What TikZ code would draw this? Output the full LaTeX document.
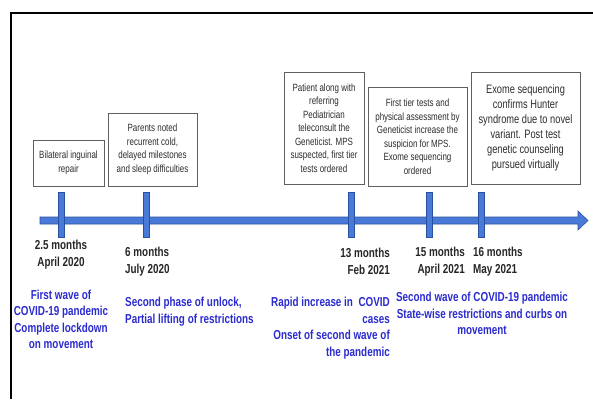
\documentclass[tikz,border=0pt]{standalone}
\usepackage{fontspec}
\setmainfont{Liberation Sans}[FakeStretch=0.76]
\usepackage{tikz}
\usetikzlibrary{positioning}

\definecolor{barblue}{RGB}{74,122,216}
\definecolor{barline}{RGB}{42,80,160}
\definecolor{waveblue}{RGB}{43,43,208}
\definecolor{boxtext}{RGB}{45,45,45}

\begin{document}
\begin{tikzpicture}[
  x=1pt, y=-1pt,
  event/.style={draw=gray!75!black, line width=0.7pt, align=center, inner sep=2pt, text=boxtext, font=\fontsize{10.5}{13.5}\selectfont},
  bigevent/.style={event, font=\fontsize{12.2}{15}\selectfont},
  tick/.style={draw=barline, fill=barblue, line width=0.6pt, minimum width=6pt, minimum height=45pt, inner sep=0pt},
  when/.style={font=\bfseries\fontsize{13}{16.5}\selectfont, text=black!85, inner sep=0pt},
  wave/.style={font=\bfseries\fontsize{13}{16.5}\selectfont, text=waveblue, inner sep=0pt}
]
\useasboundingbox (0,0) rectangle (593,399);
\fill[white] (0,0) rectangle (593,399);
% frame
\draw[line width=2pt] (10.5,399) -- (10.5,12.5) -- (593,12.5);

% timeline
\draw[barline, fill=barblue, line width=0.6pt]
  (40,217) -- (578,217) -- (578,211) -- (588,220.5) -- (578,230) -- (578,224) -- (40,224) -- cycle;
\node[tick] (t1) at (61,214.5) {};
\node[tick] (t2) at (146,214.5) {};
\node[tick] (t3) at (351,214.5) {};
\node[tick] (t4) at (429.5,214.5) {};
\node[tick] (t5) at (481.5,214.5) {};

% events
\node[event, minimum width=71pt, minimum height=46pt] (repair) at (68.5,163) {Bilateral inguinal\\repair};
\node[event, minimum width=89pt, minimum height=73pt] (parents) at (152.5,149.5) {Parents noted\\recurrent cold,\\delayed milestones\\and sleep difficulties};
\node[event, minimum width=80pt, minimum height=112pt] (consult) at (324,128) {Patient along with\\referring\\Pediatrician\\teleconsult the\\Geneticist. MPS\\suspected, first tier\\tests ordered};
\node[event, minimum width=99pt, minimum height=99pt] (tiertests) at (417.5,136.5) {First tier tests and\\physical assessment by\\Geneticist increase the\\suspicion for MPS.\\Exome sequencing\\ordered};
\node[bigevent, minimum width=109pt, minimum height=112pt] (exome) at (525.5,128) {Exome sequencing\\confirms Hunter\\syndrome due to novel\\variant. Post test\\genetic counseling\\pursued virtually};

% ages
\node[when, align=center] (age1) at (61,254.5) {2.5 months\\April 2020};
\node[when, align=left, anchor=west] (age2) at (125,261.5) {6 months\\July 2020};
\node[when, align=right, anchor=east] (age3) at (390,261.5) {13 months\\Feb 2021};
\node[when, align=right, anchor=east] (age4) at (465,261.5) {15 months\\April 2021};
\node[when, align=left, anchor=west] (age5) at (473,261.5) {16 months\\May 2021};

% pandemic context
\node[wave, align=center] (wave1) at (61,319.5) {First wave of\\COVID-19 pandemic\\Complete lockdown\\on movement};
\node[wave, align=left, anchor=west] (unlock) at (125,311.5) {Second phase of unlock,\\Partial lifting of restrictions};
\node[wave, align=right, anchor=east] (rise) at (390,328) {Rapid increase in~~COVID\\cases\\Onset of second wave of\\the pandemic};
\node[wave, align=center] (wave2) at (482,313.5) {Second wave of COVID-19 pandemic\\State-wise restrictions and curbs on\\movement};
\end{tikzpicture}
\end{document}
